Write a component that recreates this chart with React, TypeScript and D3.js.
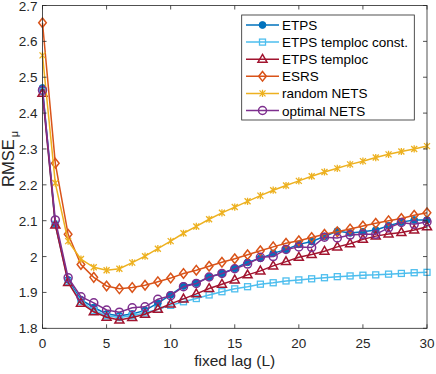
import React, { useEffect, useRef } from 'react';
import * as d3 from 'd3';

const lags = d3.range(0, 31);

const etps = [2.47, 2.09, 1.935, 1.88, 1.858, 1.84, 1.835, 1.84, 1.85, 1.87, 1.893, 1.918, 1.926, 1.943, 1.953, 1.967, 1.984, 1.995, 2.009, 2.02, 2.034, 2.042, 2.056, 2.071, 2.066, 2.069, 2.074, 2.086, 2.096, 2.102, 2.102];
const etpsConst = [2.46, 2.09, 1.93, 1.875, 1.85, 1.835, 1.83, 1.835, 1.843, 1.853, 1.864, 1.874, 1.883, 1.893, 1.902, 1.91, 1.916, 1.923, 1.927, 1.932, 1.935, 1.938, 1.941, 1.944, 1.946, 1.948, 1.949, 1.951, 1.953, 1.955, 1.956];
const etpsTemploc = [2.455, 2.088, 1.928, 1.87, 1.846, 1.831, 1.823, 1.83, 1.839, 1.853, 1.868, 1.882, 1.896, 1.911, 1.923, 1.935, 1.949, 1.96, 1.974, 1.986, 1.998, 2.006, 2.015, 2.027, 2.036, 2.048, 2.057, 2.063, 2.067, 2.074, 2.083];
const esrs = [2.652, 2.26, 2.062, 1.978, 1.942, 1.918, 1.91, 1.914, 1.92, 1.93, 1.94, 1.953, 1.962, 1.973, 1.984, 1.994, 2.005, 2.016, 2.027, 2.037, 2.044, 2.053, 2.062, 2.069, 2.077, 2.085, 2.093, 2.1, 2.106, 2.115, 2.122];
const randomNets = [2.561, 2.205, 2.043, 1.993, 1.97, 1.962, 1.966, 1.983, 2.001, 2.022, 2.043, 2.065, 2.084, 2.104, 2.122, 2.138, 2.154, 2.17, 2.185, 2.198, 2.211, 2.224, 2.236, 2.246, 2.257, 2.266, 2.276, 2.285, 2.293, 2.3, 2.308];
const optimalNets = [2.464, 2.102, 1.941, 1.888, 1.871, 1.851, 1.845, 1.857, 1.86, 1.881, 1.891, 1.916, 1.925, 1.943, 1.953, 1.966, 1.979, 1.998, 2.0, 2.02, 2.027, 2.025, 2.054, 2.052, 2.06, 2.062, 2.062, 2.08, 2.095, 2.09, 2.097];

const seriesNames = ['ETPS', 'ETPS temploc const.', 'ETPS temploc', 'ESRS', 'random NETS', 'optimal NETS'];
const seriesValues = [etps, etpsConst, etpsTemploc, esrs, randomNets, optimalNets];
const seriesColors = ['#0072BD', '#4DBEEE', '#A2142F', '#D95319', '#EDB120', '#7E2F8E'];
const seriesMarkers = ['dot', 'square', 'triangle', 'diamond', 'star', 'circle'];

const xTicks = [0, 5, 10, 15, 20, 25, 30];
const yTicks = [1.8, 1.9, 2.0, 2.1, 2.2, 2.3, 2.4, 2.5, 2.6, 2.7];

const W = 436;
const H = 374;
const FONT = 'Liberation Sans, Arial, Helvetica, sans-serif';
const AX = '#262626';

function drawMarker(g: any, kind: string, x: number, y: number, color: string) {
  if (kind === 'dot') {
    g.append('circle').attr('cx', x).attr('cy', y).attr('r', 3.4).attr('fill', color).attr('stroke', color);
  } else if (kind === 'circle') {
    g.append('circle').attr('cx', x).attr('cy', y).attr('r', 4).attr('fill', 'none').attr('stroke', color).attr('stroke-width', 1.5);
  } else if (kind === 'square') {
    g.append('rect').attr('x', x - 3).attr('y', y - 3).attr('width', 6).attr('height', 6)
      .attr('fill', 'none').attr('stroke', color).attr('stroke-width', 1.3);
  } else if (kind === 'triangle') {
    g.append('path').attr('d', `M${x},${y - 4.8}L${x + 4.5},${y + 3}L${x - 4.5},${y + 3}Z`)
      .attr('fill', 'none').attr('stroke', color).attr('stroke-width', 1.5);
  } else if (kind === 'diamond') {
    g.append('path').attr('d', `M${x},${y - 4.8}L${x + 3.8},${y}L${x},${y + 4.8}L${x - 3.8},${y}Z`)
      .attr('fill', 'none').attr('stroke', color).attr('stroke-width', 1.5);
  } else if (kind === 'star') {
    const s = 3;
    g.append('path')
      .attr('d', `M${x - s},${y - s}L${x + s},${y + s}M${x - s},${y + s}L${x + s},${y - s}M${x},${y - s * 1.2}L${x},${y + s * 1.2}`)
      .attr('fill', 'none').attr('stroke', color).attr('stroke-width', 1.3);
  }
}

const Chart = () => {
  const svgRef = useRef<SVGSVGElement>(null);

  useEffect(() => {
    document.body.style.margin = '0';
    const svg = d3.select(svgRef.current);
    svg.selectAll('*').remove();

    const left = 42.5;
    const right = 427;
    const top = 5.5;
    const bottom = 328.3;

    const x = d3.scaleLinear().domain([0, 30]).range([left, right]);
    const y = d3.scaleLinear().domain([1.8, 2.7]).range([bottom, top]);

    const plot = svg.append('g');
    const line = d3.line<number>().x((d, i) => x(lags[i])).y(d => y(d));

    seriesValues.forEach((vals, k) => {
      const g = plot.append('g');
      g.append('path').datum(vals).attr('d', line).attr('fill', 'none')
        .attr('stroke', seriesColors[k]).attr('stroke-width', 1.5);
      vals.forEach((v, i) => drawMarker(g, seriesMarkers[k], x(lags[i]), y(v), seriesColors[k]));
    });

    // axes box and ticks
    const axis = svg.append('g').attr('stroke', AX).attr('stroke-width', 0.8);
    axis.append('rect').attr('x', left).attr('y', top).attr('width', right - left).attr('height', bottom - top)
      .attr('fill', 'none');
    const tl = 4;
    xTicks.forEach(t => {
      axis.append('line').attr('x1', x(t)).attr('x2', x(t)).attr('y1', bottom).attr('y2', bottom - tl);
      axis.append('line').attr('x1', x(t)).attr('x2', x(t)).attr('y1', top).attr('y2', top + tl);
    });
    yTicks.forEach(t => {
      axis.append('line').attr('x1', left).attr('x2', left + tl).attr('y1', y(t)).attr('y2', y(t));
      axis.append('line').attr('x1', right).attr('x2', right - tl).attr('y1', y(t)).attr('y2', y(t));
    });

    const labels = svg.append('g').attr('font-family', FONT).attr('fill', AX).attr('font-size', 13.5);
    xTicks.forEach(t => {
      labels.append('text').attr('x', x(t)).attr('y', bottom + 20).attr('text-anchor', 'middle').text(String(t));
    });
    yTicks.forEach(t => {
      labels.append('text').attr('x', left - 5).attr('y', y(t) + 5).attr('text-anchor', 'end')
        .text(d3.format('~g')(+t.toFixed(1)));
    });

    svg.append('text').attr('x', (left + right) / 2).attr('y', 366).attr('text-anchor', 'middle')
      .attr('font-family', FONT).attr('font-size', 15.5).attr('fill', AX).text('fixed lag (L)');

    const yl = svg.append('text').attr('transform', 'translate(14,187) rotate(-90)')
      .attr('text-anchor', 'start').attr('font-family', FONT).attr('font-size', 16.5).attr('fill', AX);
    yl.append('tspan').text('RMSE');
    yl.append('tspan').attr('font-size', 11).attr('dy', 4).attr('dx', 2).text('μ');

    // legend
    const lg = svg.append('g').attr('font-family', FONT).attr('font-size', 13.5);
    lg.append('rect').attr('x', 241.7).attr('y', 15).attr('width', 172.6).attr('height', 105)
      .attr('fill', 'white').attr('stroke', AX).attr('stroke-width', 0.8);
    seriesNames.forEach((name, k) => {
      const ry = 25 + k * 17.1;
      lg.append('line').attr('x1', 246).attr('x2', 279).attr('y1', ry).attr('y2', ry)
        .attr('stroke', seriesColors[k]).attr('stroke-width', 1.5);
      drawMarker(lg, seriesMarkers[k], 262.5, ry, seriesColors[k]);
      lg.append('text').attr('x', 282).attr('y', ry + 5).attr('fill', '#000').text(name);
    });
  }, []);

  return <svg ref={svgRef} width={W} height={H} style={{ display: 'block' }}></svg>;
};

export default function App() {
  return <Chart />;
}
